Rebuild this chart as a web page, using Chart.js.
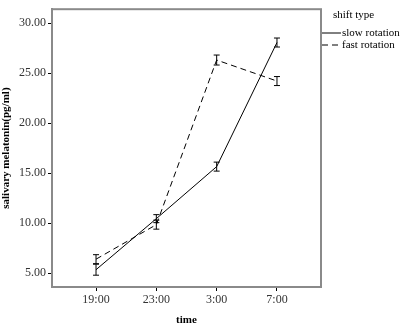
<!DOCTYPE html>
<html>
<head>
<meta charset="utf-8">
<script src="https://cdn.jsdelivr.net/npm/chart.js@4"></script>
<style>
  html, body { margin: 0; padding: 0; background: #fff; }
  #wrap { width: 400px; height: 327px; }
</style>
</head>
<body>
<div id="wrap"><canvas id="chart"></canvas></div>
<script>
// time points on the x axis
const timeLabels = ['19:00', '23:00', '3:00', '7:00'];
// mean salivary melatonin per shift type
const slowMeans = [5.35, 10.45, 15.65, 28.05];
const fastMeans = [6.4, 9.85, 26.3, 24.2];
// half length of the error bars
const slowErr = [0.55, 0.4, 0.45, 0.45];
const fastErr = [0.45, 0.45, 0.5, 0.45];
const yTicks = [5, 10, 15, 20, 25, 30];

const serif = "'Liberation Serif', 'DejaVu Serif', serif";
const frameColor = '#8a8a8a';

// error bars, drawn through the chart scales
const errorBars = {
    id: 'errorBars',
    afterDatasetsDraw(chart) {
        const ctx = chart.ctx;
        const xs = chart.scales.x, ys = chart.scales.y;
        chart.data.datasets.forEach(ds => {
            ctx.save();
            ctx.strokeStyle = '#000';
            ctx.lineWidth = 1;
            ds.data.forEach((p, i) => {
                const e = ds.errors[i];
                const x = xs.getPixelForValue(p.x);
                const y1 = ys.getPixelForValue(p.y - e);
                const y2 = ys.getPixelForValue(p.y + e);
                ctx.beginPath();
                ctx.moveTo(x, y1); ctx.lineTo(x, y2);
                ctx.moveTo(x - 3, y1); ctx.lineTo(x + 3, y1);
                ctx.moveTo(x - 3, y2); ctx.lineTo(x + 3, y2);
                ctx.stroke();
            });
            ctx.restore();
        });
    }
};

// full frame round the plot and the SPSS-like legend on the right
const frameAndLegend = {
    id: 'frameAndLegend',
    afterDraw(chart) {
        const ctx = chart.ctx;
        const a = chart.chartArea;
        ctx.save();
        ctx.strokeStyle = frameColor;
        ctx.lineWidth = 2;
        ctx.strokeRect(a.left, a.top, a.right - a.left, a.bottom - a.top);

        ctx.fillStyle = '#000';
        ctx.font = '11px ' + serif;
        ctx.textBaseline = 'middle';
        ctx.fillText('shift type', a.right + 12, 15);
        chart.data.datasets.forEach((ds, i) => {
            const y = 33 + i * 12;
            ctx.strokeStyle = '#000';
            ctx.lineWidth = 1;
            ctx.setLineDash(ds.borderDash || []);
            ctx.beginPath();
            ctx.moveTo(a.right + 1, y); ctx.lineTo(a.right + 20, y);
            ctx.stroke();
            ctx.setLineDash([]);
            ctx.fillText(ds.label, a.right + 21, y);
        });
        ctx.restore();
    }
};

const toPoints = vals => vals.map((v, i) => ({ x: i, y: v }));

new Chart(document.getElementById('chart'), {
    type: 'line',
    data: {
        datasets: [{
            label: 'slow rotation',
            data: toPoints(slowMeans),
            errors: slowErr,
            borderColor: '#000',
            borderWidth: 1,
            pointRadius: 0,
            tension: 0
        }, {
            label: 'fast rotation',
            data: toPoints(fastMeans),
            errors: fastErr,
            borderColor: '#000',
            borderWidth: 1,
            borderDash: [6, 4],
            pointRadius: 0,
            tension: 0
        }]
    },
    options: {
        responsive: true,
        maintainAspectRatio: false,
        animation: false,
        layout: { padding: { left: 0, right: 79, top: 5, bottom: 0 } },
        plugins: {
            legend: { display: false },
            tooltip: { enabled: false }
        },
        scales: {
            x: {
                type: 'linear',
                min: -0.73,
                max: 3.73,
                afterBuildTicks: s => { s.ticks = timeLabels.map((_, i) => ({ value: i })); },
                afterFit: s => { s.height = 40; },
                ticks: {
                    callback: v => timeLabels[v],
                    color: '#333',
                    font: { family: serif, size: 12 },
                    padding: 2,
                    maxRotation: 0
                },
                grid: { drawOnChartArea: false, tickLength: 4, color: '#000', tickColor: '#000' },
                border: { color: frameColor, width: 2 },
                title: {
                    display: true,
                    text: 'time',
                    color: '#000',
                    font: { family: serif, size: 11, weight: 'bold' },
                    padding: { top: 4, bottom: 0 }
                }
            },
            y: {
                min: 3.62,
                max: 31.38,
                afterBuildTicks: s => { s.ticks = yTicks.map(v => ({ value: v })); },
                afterFit: s => { s.width = 52; },
                ticks: {
                    callback: v => v.toFixed(2),
                    color: '#333',
                    font: { family: serif, size: 12 },
                    padding: 2
                },
                grid: { drawOnChartArea: false, tickLength: 4, color: '#000', tickColor: '#000' },
                border: { color: frameColor, width: 2 },
                title: {
                    display: true,
                    text: 'salivary melatonin(pg/ml)',
                    color: '#000',
                    font: { family: serif, size: 11, weight: 'bold' },
                    padding: { top: 0, bottom: 2 }
                }
            }
        }
    },
    plugins: [errorBars, frameAndLegend]
});
</script>
</body>
</html>
